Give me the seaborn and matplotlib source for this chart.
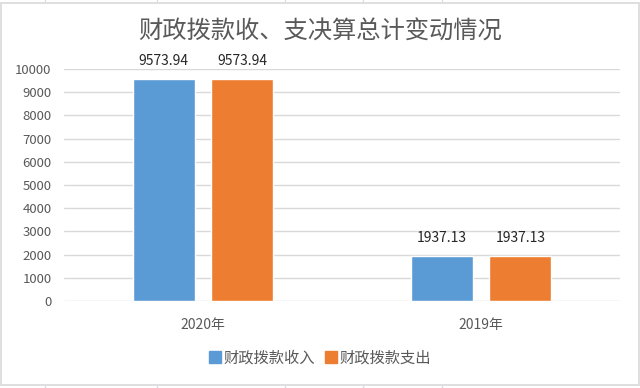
import matplotlib
matplotlib.use('Agg')
import matplotlib.pyplot as plt
from matplotlib.patches import Rectangle
from matplotlib.lines import Line2D
import pandas as pd
import seaborn as sns

# data
years = ['2020年', '2019年']
series = ['财政拨款收入', '财政拨款支出']
income = [9573.94, 1937.13]
spending = [9573.94, 1937.13]
colors = ['#5B9BD5', '#ED7D31']
y_ticks = list(range(0, 10001, 1000))

data = pd.DataFrame({
    'year': years * 2,
    'kind': [series[0]] * len(years) + [series[1]] * len(years),
    'value': income + spending,
})

sns.set_style('white')
plt.rcParams['font.family'] = ['Noto Sans CJK SC', 'DejaVu Sans']

fig = plt.figure(figsize=(6.4, 3.88), dpi=100)
ax = fig.add_axes([0.1, 0.2242, 0.869, 0.598])

sns.barplot(data=data, x='year', y='value', hue='kind', order=years,
            hue_order=series, palette=colors, width=0.565, gap=0.21,
            saturation=1, legend=False, ax=ax)

ax.set_ylim(0, 10000)
ax.set_yticks(y_ticks)
ax.set_xlim(-0.5, 1.5)
ax.yaxis.grid(True, color='#D9D9D9', linewidth=1)
ax.set_axisbelow(True)
for s in ax.spines.values():
    s.set_visible(False)
ax.tick_params(axis='both', length=0, colors='#595959')
ax.tick_params(axis='y', labelsize=9.5, pad=9)
ax.tick_params(axis='x', labelsize=10, pad=12)
ax.set_xlabel('')
ax.set_ylabel('')

for c in ax.containers:
    ax.bar_label(c, labels=[f'{v:.2f}' for v in c.datavalues],
                 padding=8, fontsize=10, color='#262626')

fig.text(0.5, 0.918, '财政拨款收、支决算总计变动情况', ha='center', va='center',
         fontsize=17.5, color='#595959')

handles = [Rectangle((0, 0), 1, 1, color=c) for c in colors]
fig.legend(handles, series, loc='center', bbox_to_anchor=(0.5, 0.078), ncol=2,
           frameon=False, fontsize=11, handlelength=0.8, handleheight=0.8,
           handletextpad=0.2, columnspacing=0.6, labelcolor='#595959')

# spreadsheet cell borders around the chart
fig.add_artist(Rectangle((0.002, 0.009), 0.996, 0.983, transform=fig.transFigure,
                         fill=False, edgecolor='#D9D9D9', linewidth=1.2))
for x in [45, 157, 285, 363, 442]:
    fig.add_artist(Line2D([x / 640, x / 640], [0.992, 1.0], color='#DADCE8', lw=1))
    fig.add_artist(Line2D([x / 640, x / 640], [0.0, 0.009], color='#DADCE8', lw=1))

fig.savefig('out.png', dpi=100)
